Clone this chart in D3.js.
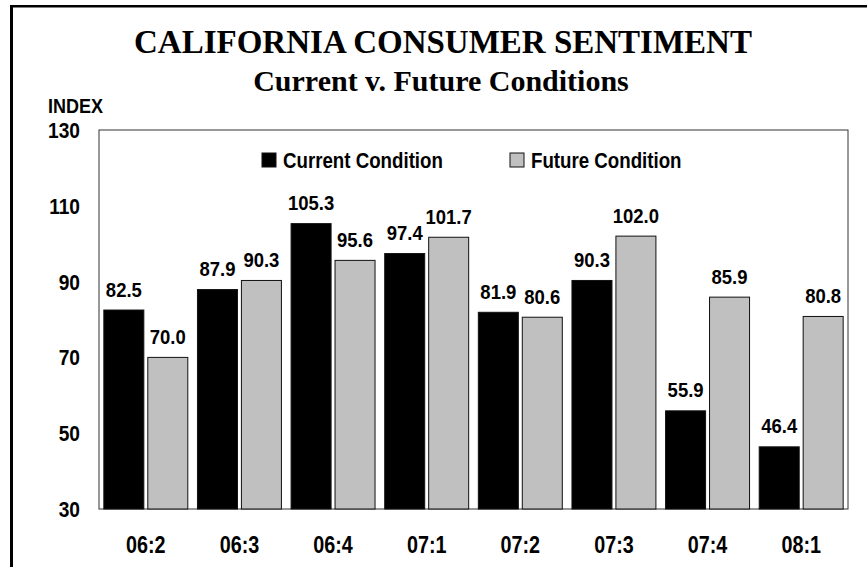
<!DOCTYPE html>
<html>
<head>
<meta charset="utf-8">
<script src="https://cdn.jsdelivr.net/npm/d3@7"></script>
<style>
  body { margin: 0; background: #fff; }
  svg { display: block; }
</style>
</head>
<body>
<script>
// chart data
const quarters = ["06:2", "06:3", "06:4", "07:1", "07:2", "07:3", "07:4", "08:1"];
const currentCond = [82.5, 87.9, 105.3, 97.4, 81.9, 90.3, 55.9, 46.4];
const futureCond = [70.0, 90.3, 95.6, 101.7, 80.6, 102.0, 85.9, 80.8];
const seriesNames = ["Current Condition", "Future Condition"];
const seriesColors = ["#000000", "#c0c0c0"];
const yTicks = [30, 50, 70, 90, 110, 130];

const w = 867;
const h = 567;
const plot = {left: 99, right: 848, top: 130, bottom: 509};
const sans = "'Liberation Sans', Arial, sans-serif";
const serif = "'Liberation Serif', 'Times New Roman', serif";

const svg = d3.select("body")
              .append("svg")
              .attr("width", w)
              .attr("height", h);

// narrow bold text (chart font looks like Arial Narrow)
function narrowText(g, str, x, y, size, anchor, sx) {
  return g.append("text")
          .text(str)
          .attr("transform", `translate(${x},${y}) scale(${sx || 0.86},1)`)
          .attr("text-anchor", anchor || "start")
          .style("font-family", sans)
          .style("font-weight", "bold")
          .style("font-size", size + "px")
          .attr("fill", "#000");
}

// outer frame (only top and left edges show)
svg.append("line").attr("x1", 11.5).attr("y1", 567).attr("x2", 11.5).attr("y2", 5)
   .attr("stroke", "#000").attr("stroke-width", 3);
svg.append("line").attr("x1", 10).attr("y1", 6.2).attr("x2", 867).attr("y2", 6.2)
   .attr("stroke", "#000").attr("stroke-width", 2.6);

// titles
svg.append("text")
   .text("CALIFORNIA CONSUMER SENTIMENT")
   .attr("x", 443).attr("y", 53)
   .attr("text-anchor", "middle")
   .style("font-family", serif).style("font-weight", "bold").style("font-size", "33px");
svg.append("text")
   .text("Current v. Future Conditions")
   .attr("x", 441).attr("y", 91)
   .attr("text-anchor", "middle")
   .style("font-family", serif).style("font-weight", "bold").style("font-size", "30px");

narrowText(svg, "INDEX", 48, 113, 20, "start", 0.9);

// scales
const yScale = d3.scaleLinear().domain([30, 130]).range([plot.bottom, plot.top]);
const xScale = d3.scaleBand().domain(quarters).range([plot.left, plot.right]);
const xInner = d3.scaleBand()
                 .domain(seriesNames)
                 .range([0, xScale.bandwidth()])
                 .paddingInner(0.09)
                 .paddingOuter(0.11);

// plot frame
svg.append("rect")
   .attr("x", plot.left).attr("y", plot.top)
   .attr("width", plot.right - plot.left).attr("height", plot.bottom - plot.top)
   .attr("fill", "none").attr("stroke", "#333").attr("stroke-width", 1);

// y tick labels
const yAxis = svg.append("g").attr("class", "y-axis");
yTicks.forEach(t => narrowText(yAxis, t, 80, yScale(t) + 8, 22, "end", 0.87));

// x tick labels
const xAxis = svg.append("g").attr("class", "x-axis");
quarters.forEach(q => narrowText(xAxis, q, xScale(q) + xScale.bandwidth() / 2, 553, 23, "middle", 0.86));

// bars
const rows = quarters.map((q, i) => ({q, vals: [currentCond[i], futureCond[i]]}));
const groups = svg.append("g").selectAll("g")
                  .data(rows)
                  .join("g")
                  .attr("transform", d => `translate(${xScale(d.q)},0)`);

const cells = groups.selectAll("g")
                    .data(d => d.vals.map((v, k) => ({name: seriesNames[k], v, k})))
                    .join("g");

cells.append("rect")
     .attr("x", d => xInner(d.name))
     .attr("y", d => yScale(d.v))
     .attr("width", xInner.bandwidth())
     .attr("height", d => yScale(30) - yScale(d.v))
     .attr("fill", d => seriesColors[d.k])
     .attr("stroke", "#111")
     .attr("stroke-width", 1);

cells.each(function(d) {
  narrowText(d3.select(this), d.v.toFixed(1),
             xInner(d.name) + xInner.bandwidth() / 2, yScale(d.v) - 13.5, 21, "middle", 0.88);
});

// legend
const legendX = [262, 510];
const legend = svg.append("g").attr("class", "legend");
seriesNames.forEach((name, k) => {
  legend.append("rect")
        .attr("x", legendX[k]).attr("y", 153)
        .attr("width", 14).attr("height", 14)
        .attr("fill", seriesColors[k])
        .attr("stroke", "#111").attr("stroke-width", 1);
  narrowText(legend, name, legendX[k] + 21, 168, 22, "start", 0.85);
});
</script>
</body>
</html>
